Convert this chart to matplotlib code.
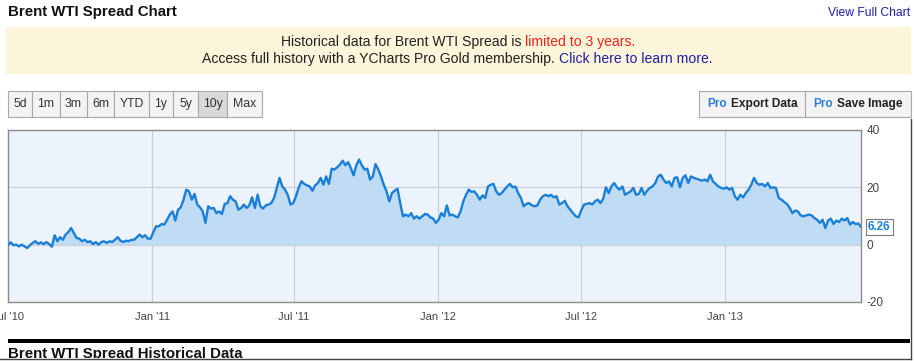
import matplotlib
matplotlib.use("Agg")
import matplotlib.pyplot as plt
from matplotlib.patches import Rectangle
import pandas as pd

plt.rcParams['font.family'] = ['Liberation Sans', 'DejaVu Sans']
plt.rcParams['axes.unicode_minus'] = False

W, H = 914, 361  # output size in pixels

# Brent - WTI spread (USD/bbl), one value every 3.5 days from 1 Jul 2010
spread = [
    0, 0.8, -0.2, 0, -0.6, 0, -0.6, -1.2, -0.2, 0.6,
    1.2, 0.3, 0.8, 0.2, 0.9, 0.2, -0.7, 3.3, 1.2, 2.6,
    1.7, 3.5, 4.4, 5.8, 4.1, 2.3, 2.1, 1.2, 1.7, 0.9,
    1.2, 0.2, 0.9, 0, 0.9, 1.2, 0.6, 1.2, 0.9, 1.7,
    2.6, 1.4, 0.9, 1.4, 1.2, 1.7, 1.7, 2.6, 3.5, 2.6,
    3.3, 2.1, 2.1, 4.4, 6.4, 6.4, 7.2, 7.0, 8.7, 10.5,
    11.6, 8.4, 12.2, 13.0, 15.7, 19.2, 18.6, 15.7, 17.7, 14.0,
    13.0, 11.6, 7.6, 13.4, 12.6, 12.8, 11.0, 11.6, 10.7, 14.2,
    14.5, 16.9, 15.7, 15.1, 12.2, 12.8, 14.0, 12.8, 13.7, 16.5,
    12.8, 17.4, 13.4, 12.6, 13.7, 14.0, 14.5, 16.3, 19.8, 23.3,
    20.3, 19.2, 17.4, 14.0, 14.5, 16.9, 20.0, 22.1, 21.2, 20.7,
    20.3, 18.8, 20.7, 21.5, 23.3, 20.9, 23.8, 21.2, 26.5, 26.2,
    27.0, 27.9, 29.3, 27.7, 28.8, 26.7, 24.2, 27.7, 29.7, 27.7,
    26.2, 26.5, 22.7, 23.8, 28.1, 26.2, 23.8, 20.9, 18.6, 15.1,
    18.0, 18.8, 19.5, 14.5, 9.9, 10.5, 9.9, 11.0, 9.1, 9.9,
    9.1, 9.9, 10.7, 10.5, 9.5, 9.1, 7.6, 8.7, 11.0, 9.9,
    13.7, 10.2, 10.5, 9.9, 9.5, 11.6, 15.1, 17.4, 19.2, 18.4,
    18.6, 17.4, 15.7, 17.2, 16.3, 20.3, 20.9, 21.2, 18.6, 17.4,
    18.0, 19.2, 20.3, 21.2, 20.0, 20.3, 18.0, 16.3, 13.4, 14.2,
    14.5, 13.7, 13.4, 13.7, 15.7, 16.9, 17.4, 16.9, 17.4, 16.5,
    16.9, 14.0, 14.5, 15.3, 13.4, 12.2, 11.0, 9.9, 9.5, 11.9,
    14.0, 14.2, 14.5, 14.0, 15.1, 15.7, 14.5, 16.0, 20.0, 18.0,
    20.3, 21.5, 20.0, 19.2, 20.3, 17.4, 18.0, 18.6, 19.8, 17.4,
    17.7, 19.8, 17.4, 18.8, 19.8, 20.3, 21.5, 23.8, 24.4, 22.7,
    21.5, 22.1, 20.3, 23.3, 23.5, 20.0, 23.3, 24.2, 21.5, 23.8,
    23.3, 23.0, 22.7, 22.3, 22.7, 22.1, 24.4, 22.1, 21.2, 20.3,
    19.8, 19.5, 20.0, 19.2, 19.8, 16.9, 15.7, 17.4, 16.5, 18.0,
    19.2, 20.9, 23.3, 21.5, 20.9, 21.2, 20.3, 21.5, 19.8, 20.0,
    19.8, 16.3, 15.7, 14.9, 14.2, 12.8, 11.0, 11.9, 11.6, 10.2,
    9.9, 10.2, 10.5, 10.2, 9.3, 8.7, 7.6, 8.7, 5.8, 8.4,
    9.1, 7.2, 8.4, 7.9, 9.1, 8.4, 9.3, 7.0, 7.9, 7.2,
    7.4, 6.26,
]
dates = pd.date_range("2010-07-01", periods=len(spread), freq="84h")

tick_dates = pd.to_datetime(["2010-07-01", "2011-01-01", "2011-07-01",
                             "2012-01-01", "2012-07-01", "2013-01-01"])
tick_labels = ["Jul '10", "Jan '11", "Jul '11", "Jan '12", "Jul '12", "Jan '13"]
y_ticks = [-20, 0, 20, 40]
range_buttons = ["5d", "1m", "3m", "6m", "YTD", "1y", "5y", "10y", "Max"]
button_edges = [8, 32, 60, 87, 114, 149, 173, 198, 227, 262]

line_blue = '#1a7fd6'
link_blue = '#1f1fa8'


def fx(x):
    return x / W


def fy(y):
    return 1 - y / H


def rect(x0, y0, x1, y1, fc, ec='none', lw=1.0, z=1):
    fig.add_artist(Rectangle((fx(x0), fy(y1)), (x1 - x0) / W, (y1 - y0) / H,
                             transform=fig.transFigure, fc=fc, ec=ec, lw=lw, zorder=z))


def txt(x, y, s, **kw):
    kw.setdefault('va', 'center')
    fig.text(fx(x), fy(y), s, **kw)


fig = plt.figure(figsize=(W / 100, H / 100), dpi=100)
fig.patch.set_facecolor('white')

# header
txt(8, 12, "Brent WTI Spread Chart", fontsize=10.8, fontweight='bold', color='#111111')
txt(910, 13, "View Full Chart", fontsize=8.7, color=link_blue, ha='right')

# notice banner
rect(6, 27, 911, 74, '#fcf5da')
txt(525, 42, "Historical data for Brent WTI Spread is ", fontsize=10.1, ha='right', color='#222222')
txt(525, 42, "limited to 3 years.", fontsize=10.1, ha='left', color='#e5261f')
txt(559, 59, "Access full history with a YCharts Pro Gold membership. ", fontsize=10.1, ha='right', color='#222222')
txt(559, 59, "Click here to learn more.", fontsize=10.1, ha='left', color=link_blue)

# range buttons
for i, lab in enumerate(range_buttons):
    x0, x1 = button_edges[i], button_edges[i + 1]
    fc = '#d9d9d9' if lab == "10y" else '#f3f3f3'
    rect(x0, 91, x1, 117, fc, ec='#a8a8a8', lw=0.8)
    txt((x0 + x1) / 2, 104, lab, fontsize=8.8, ha='center', color='#333333')

# pro buttons
rect(699, 91, 805, 117, '#f3f3f3', ec='#a8a8a8', lw=0.8)
rect(805, 91, 911, 117, '#f3f3f3', ec='#a8a8a8', lw=0.8)
txt(707, 104, "Pro", fontsize=8.6, fontweight='bold', color='#2f7fd0')
txt(731, 104, "Export Data", fontsize=8.6, fontweight='bold', color='#222222')
txt(813, 104, "Pro", fontsize=8.6, fontweight='bold', color='#2f7fd0')
txt(837, 104, "Save Image", fontsize=8.6, fontweight='bold', color='#222222')

# chart
ax = fig.add_axes([fx(8), fy(302), (861 - 8) / W, (302 - 130) / H])
ax.set_facecolor('#ecf3fc')
ax.fill_between(dates, spread, 0, color='#c0dcf5', lw=0, zorder=2)
ax.plot(dates, spread, color=line_blue, lw=1.7, zorder=3)
ax.set_xlim(pd.Timestamp("2010-07-01"), dates[-1])
ax.set_ylim(-20, 40)
ax.set_xticks(tick_dates)
ax.set_xticklabels(tick_labels)
ax.set_yticks(y_ticks)
ax.yaxis.tick_right()
ax.tick_params(length=0, labelsize=8, colors='#444444')
ax.tick_params(axis='x', pad=7)
ax.tick_params(axis='y', pad=4, labelsize=8.5)
ax.grid(True, color='#c9ced6', lw=0.8, zorder=1)
ax.set_axisbelow(True)
for sp in ax.spines.values():
    sp.set_color('#8c8c8c')
    sp.set_linewidth(1.0)

ax.annotate(f"{spread[-1]:.2f}", xy=(dates[-1], spread[-1]), xytext=(5, 0),
            textcoords='offset points', va='center', ha='left', fontsize=8.3,
            fontweight='bold', color=line_blue, annotation_clip=False,
            bbox=dict(boxstyle='square,pad=0.18', fc='white', ec='#7a7a7a', lw=0.8))

# footer
rect(8, 339, 910, 343, '#000000', z=3)
txt(8, 354, "Brent WTI Spread Historical Data", fontsize=10.8, fontweight='bold', color='#111111')
rect(0, 358, 914, 361, 'white', z=4)
fig.add_artist(plt.Line2D([fx(0), fx(911)], [fy(358.5), fy(358.5)], transform=fig.transFigure,
                          color='#444444', lw=1, zorder=5))
fig.add_artist(plt.Line2D([fx(911), fx(911)], [fy(119), fy(359)], transform=fig.transFigure,
                          color='#444444', lw=1, zorder=5))

fig.savefig("out.png", dpi=100)
